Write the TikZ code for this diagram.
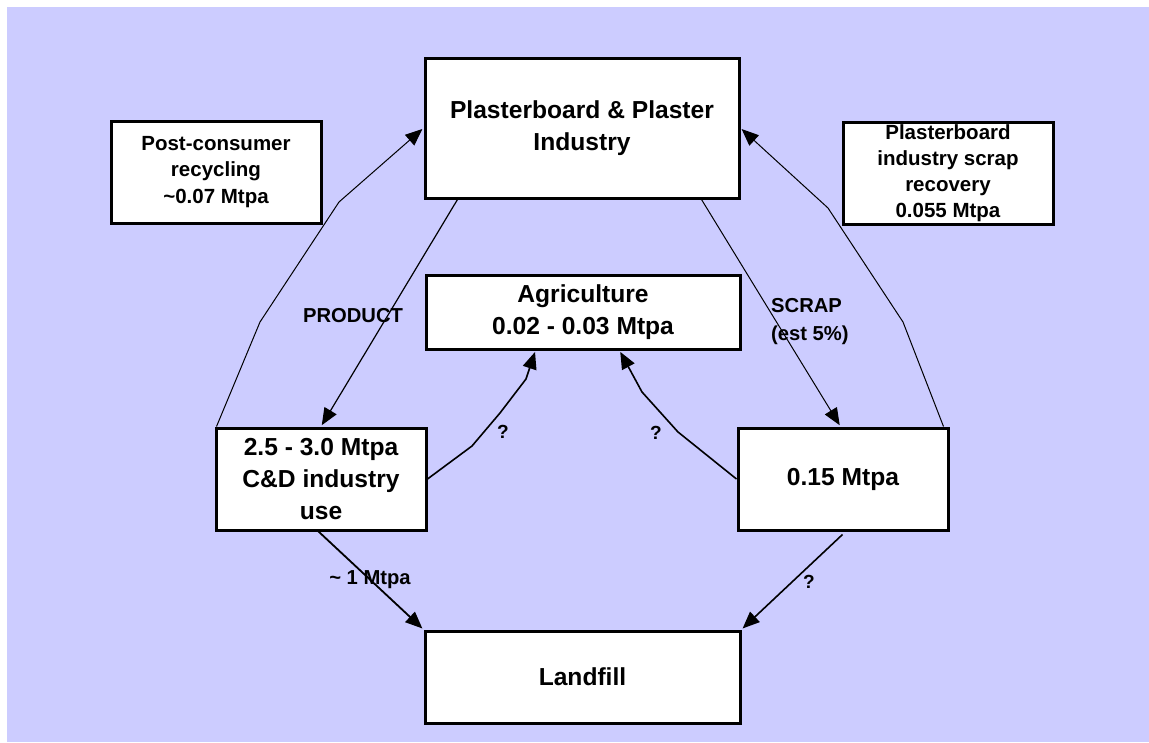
\documentclass[tikz,border=0pt]{standalone}
\usepackage{fontspec}
\setmainfont{Liberation Sans}
\usetikzlibrary{arrows.meta,calc}
\definecolor{bg}{HTML}{CCCCFF}
\begin{document}
\begin{tikzpicture}[x=1pt,y=-1pt,
  box/.style={draw=black, fill=white, line width=3pt, inner sep=0pt, align=center,
    font=\bfseries\fontsize{24.6}{32}\selectfont},
  sbox/.style={box, font=\bfseries\fontsize{20.5}{26.5}\selectfont},
  conn/.style={line width=1.3pt, shorten >=1.5pt, -{Triangle[length=17pt,width=14pt]}},
  lbl/.style={font=\bfseries\fontsize{20.2}{24}\selectfont, inner sep=0pt},
  qlbl/.style={font=\bfseries\fontsize{19}{22}\selectfont, inner sep=0pt}]
\useasboundingbox (0,0) rectangle (1149,742);
\fill[bg] (7,7) rectangle (1149,742);

% boxes
\node[box, minimum width=314pt, minimum height=140pt] (top) at (582,128) {Plasterboard \& Plaster\\Industry};
\node[sbox, minimum width=210pt, minimum height=102pt] (post) at (216,172) {Post-consumer\\recycling\\\textasciitilde0.07 Mtpa};
\node[sbox, minimum width=210pt, minimum height=102pt, font=\bfseries\fontsize{20.5}{25.8}\selectfont] (rec) at (948,173) {Plasterboard\\industry scrap\\recovery\\0.055 Mtpa};
\node[box, minimum width=314pt, minimum height=74pt] (agr) at (583,312) {Agriculture\\0.02 - 0.03 Mtpa};
\node[box, minimum width=210pt, minimum height=102pt] (cd) at (321,479) {2.5 - 3.0 Mtpa\\C\&D industry\\use};
\node[box, minimum width=210pt, minimum height=102pt] (p15) at (843,479) {0.15 Mtpa};
\node[box, minimum width=315pt, minimum height=92pt] (land) at (582.5,677) {Landfill};

% connectors
\draw[conn, line width=1pt] ($(cd.north west)+(2,0)$) -- (260,322) -- (339,202) -- (top.west);
\draw[conn, line width=1.2pt] ($(top.south west)+(34,0)$) -- (cd.north);
\draw[conn, line width=1.6pt] (cd.east) -- (472,446) -- (500,413) -- (526,379) -- ($(agr.south west)+(111,0)$);
\draw[conn, line width=1.6pt] (p15.west) -- (678,432) -- (642,392) -- ($(agr.south west)+(195,0)$);
\draw[conn, line width=1pt] ($(top.south west)+(278,0)$) -- ($(p15.north west)+(104,0)$);
\draw[conn, line width=1pt] ($(p15.north east)+(-6,0)$) -- (903,322) -- (828,208) -- (top.east);
\draw[conn, line width=1.8pt] ($(cd.south west)+(104,0)$) -- (land.north west);
\draw[conn, line width=1.6pt] ($(p15.south west)+(106,3)$) -- (land.north east);

% labels
\node[lbl] (lprod) at (353,316) {PRODUCT};
\node[lbl, align=left, anchor=north west, font=\bfseries\fontsize{20.2}{28}\selectfont] (lscrap) at (771,298) {SCRAP\\(est 5\%)};
\node[lbl] (lone) at (370,580) {\textasciitilde\ 1 Mtpa};
\node[qlbl] (qa) at (503,432) {?};
\node[qlbl] (qb) at (656,433) {?};
\node[qlbl] (qc) at (809,582) {?};
\end{tikzpicture}
\end{document}
